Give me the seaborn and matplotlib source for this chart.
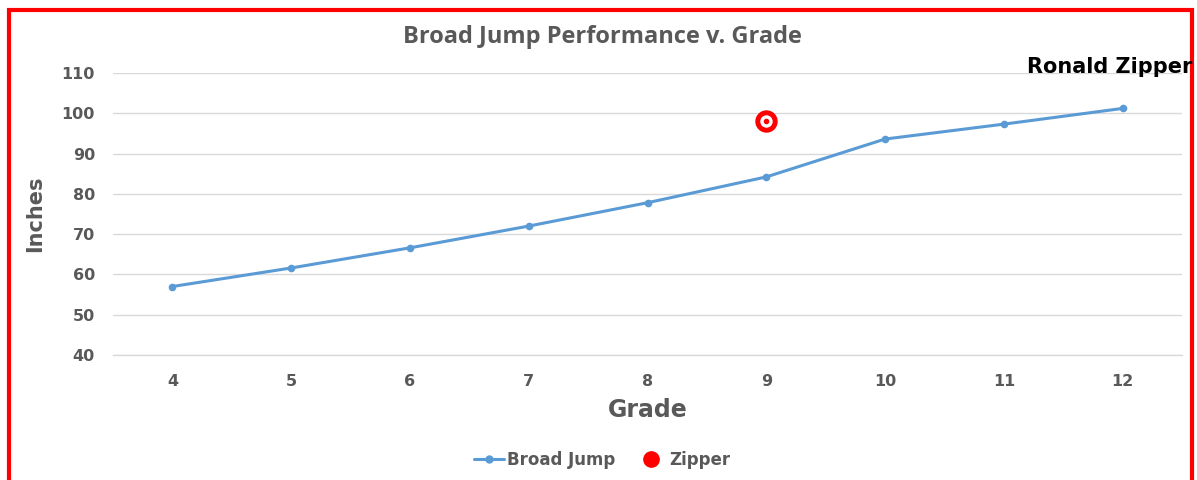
import numpy as np
import pandas as pd
import matplotlib
matplotlib.use("Agg")
import matplotlib.pyplot as plt
import seaborn as sns
from matplotlib.lines import Line2D
from matplotlib.patches import Rectangle

# data
grades = [4, 5, 6, 7, 8, 9, 10, 11, 12]
broad_jump = [57.0, 61.6, 66.6, 72.0, 77.8, 84.2, 93.6, 97.3, 101.2]
zipper_grade = [9]
zipper_value = [98.0]

sns.set_theme(style="white")
plt.rcParams['font.family'] = ['DejaVu Sans']

gray = "#595959"
blue = "#5B9BD5"

df = pd.DataFrame({"Grade": [str(g) for g in grades], "Inches": broad_jump})
dz = pd.DataFrame({"Grade": [str(g) for g in zipper_grade], "Inches": zipper_value})

fig = plt.figure(figsize=(11.97, 4.8), dpi=100)
ax = fig.add_axes([0.0944, 0.2604, 0.8931, 0.5876])

sns.lineplot(data=df, x="Grade", y="Inches", color=blue, linewidth=2.2,
             marker="o", markersize=5.5, markeredgewidth=0, sort=False, ax=ax)
# bullseye marker for Zipper
sns.scatterplot(data=dz, x="Grade", y="Inches", color="red", s=260, linewidth=0, ax=ax, zorder=5)
sns.scatterplot(data=dz, x="Grade", y="Inches", color="white", s=80, linewidth=0, ax=ax, zorder=6)
sns.scatterplot(data=dz, x="Grade", y="Inches", color="red", s=16, linewidth=0, ax=ax, zorder=7)

ax.set_xlim(-0.5, len(grades) - 0.5)
ax.set_ylim(40, 110)
ax.set_yticks(np.arange(40, 111, 10))
ax.yaxis.grid(True, color="#D9D9D9", linewidth=1)
ax.xaxis.grid(False)
for s in ax.spines.values():
    s.set_visible(False)
ax.spines["bottom"].set_visible(True)
ax.spines["bottom"].set_color("#D9D9D9")
ax.spines["bottom"].set_linewidth(1)
ax.tick_params(axis="both", length=0, labelsize=11.5, labelcolor=gray)
ax.tick_params(axis="y", pad=13)
ax.tick_params(axis="x", pad=14)
for lab in ax.get_xticklabels() + ax.get_yticklabels():
    lab.set_fontweight("bold")

ax.set_xlabel("Grade", fontsize=17, fontweight="bold", color=gray, labelpad=6)
ax.set_ylabel("Inches", fontsize=15, fontweight="bold", color=gray, labelpad=12)

fig.text(0.503, 0.922, "Broad Jump Performance v. Grade", ha="center", va="center",
         fontsize=17, fontweight="bold", color=gray, family=["Open Sans", "DejaVu Sans"])
fig.text(0.996, 0.86, "Ronald Zipper", ha="right", va="center",
         fontsize=15, fontweight="bold", color="black")

handles = [
    Line2D([0], [0], color=blue, linewidth=2.2, marker="o", markersize=5),
    Line2D([0], [0], color="red", linestyle="none", marker="o", markersize=11),
]
leg = fig.legend(handles, ["Broad Jump", "Zipper"], loc="center", bbox_to_anchor=(0.503, 0.042),
                 ncol=2, frameon=False, handlelength=1.8, handletextpad=0.2, columnspacing=1.2,
                 prop={"weight": "bold", "size": 12})
for t in leg.get_texts():
    t.set_color(gray)

# red frame around the chart
fig.patches.append(Rectangle((0.0075, -0.05), 0.988, 1.03, transform=fig.transFigure,
                             fill=False, edgecolor="red", linewidth=3))

fig.savefig("out.png", dpi=100)
